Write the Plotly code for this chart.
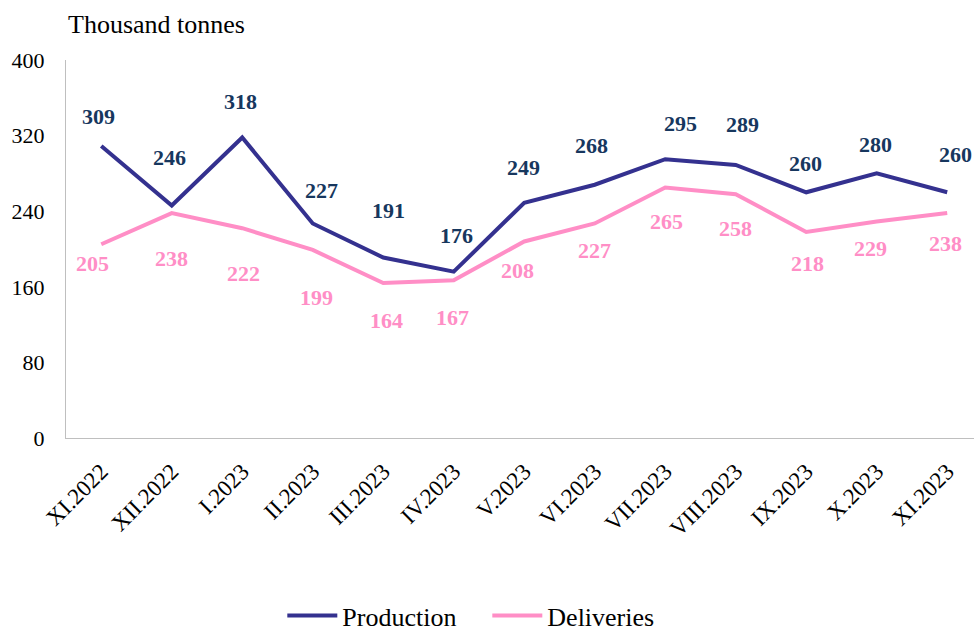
import plotly.graph_objects as go

months = ["XI.2022", "XII.2022", "I.2023", "II.2023", "III.2023", "IV.2023", "V.2023",
          "VI.2023", "VII.2023", "VIII.2023", "IX.2023", "X.2023", "XI.2023"]
production = [309, 246, 318, 227, 191, 176, 249, 268, 295, 289, 260, 280, 260]
deliveries = [205, 238, 222, 199, 164, 167, 208, 227, 265, 258, 218, 229, 238]

# label offsets in pixels (xshift, yshift) - styling only
prod_off = [(-3, 30), (-2, 48), (-2, 36), (9, 33), (5, 47), (3, 36), (-1, 35),
            (-3, 39), (15, 36), (7, 40), (-1, 29), (-1, 29), (8, 38)]
deliv_off = [(-9, -19), (0, -45), (1, -45), (4, -48), (3, -37), (-1, -37), (-7, -29),
             (0, -27), (1, -34), (0, -34), (1, -32), (-6, -27), (-2, -30)]

PROD_C = "#34318F"
PROD_LBL = "#17375E"
DEL_C = "#FF8EC6"
FONT = "Times New Roman, Liberation Serif, serif"

x = list(range(len(months)))

fig = go.Figure()
fig.add_trace(go.Scatter(x=x, y=production, mode="lines", name="Production",
                         line=dict(color=PROD_C, width=4)))
fig.add_trace(go.Scatter(x=x, y=deliveries, mode="lines", name="Deliveries",
                         line=dict(color=DEL_C, width=4)))

anns = []
for i, v in enumerate(production):
    anns.append(dict(x=x[i], y=v, xref="x", yref="y", text=f"<b>{v}</b>", showarrow=False,
                     xshift=prod_off[i][0], yshift=prod_off[i][1],
                     font=dict(family=FONT, size=22, color=PROD_LBL)))
for i, v in enumerate(deliveries):
    anns.append(dict(x=x[i], y=v, xref="x", yref="y", text=f"<b>{v}</b>", showarrow=False,
                     xshift=deliv_off[i][0], yshift=deliv_off[i][1],
                     font=dict(family=FONT, size=22, color=DEL_C)))
anns.append(dict(x=0, y=1, xref="paper", yref="paper", text="Thousand tonnes", showarrow=False,
                 xanchor="left", yanchor="middle", xshift=0, yshift=36,
                 font=dict(family=FONT, size=26, color="#000000")))

fig.update_layout(
    width=974, height=634,
    margin=dict(l=66, r=0, t=60, b=196, autoexpand=False),
    paper_bgcolor="white", plot_bgcolor="white",
    font=dict(family=FONT, size=22, color="#000000"),
    showlegend=True,
    legend=dict(orientation="h", x=0.464, xanchor="center", y=-0.47, yanchor="middle",
                font=dict(family=FONT, size=26, color="#000000"), itemwidth=50,
                entrywidth=140, traceorder="normal"),
    annotations=anns,
)
fig.update_xaxes(range=[-0.5, 12.38], tickmode="array", tickvals=x, ticktext=months,
                 tickangle=-45, showgrid=False, showline=True, linecolor="#BFBFBF",
                 linewidth=1, ticks="", ticklabelstandoff=10, zeroline=False,
                 automargin=False, tickfont=dict(family=FONT, size=23))
fig.update_yaxes(range=[0, 400], tickvals=[0, 80, 160, 240, 320, 400], showgrid=False,
                 showline=True, linecolor="#BFBFBF", linewidth=1, ticks="",
                 ticklabelstandoff=16, zeroline=False, automargin=False,
                 tickfont=dict(family=FONT, size=22))

fig.write_html("out.html")
